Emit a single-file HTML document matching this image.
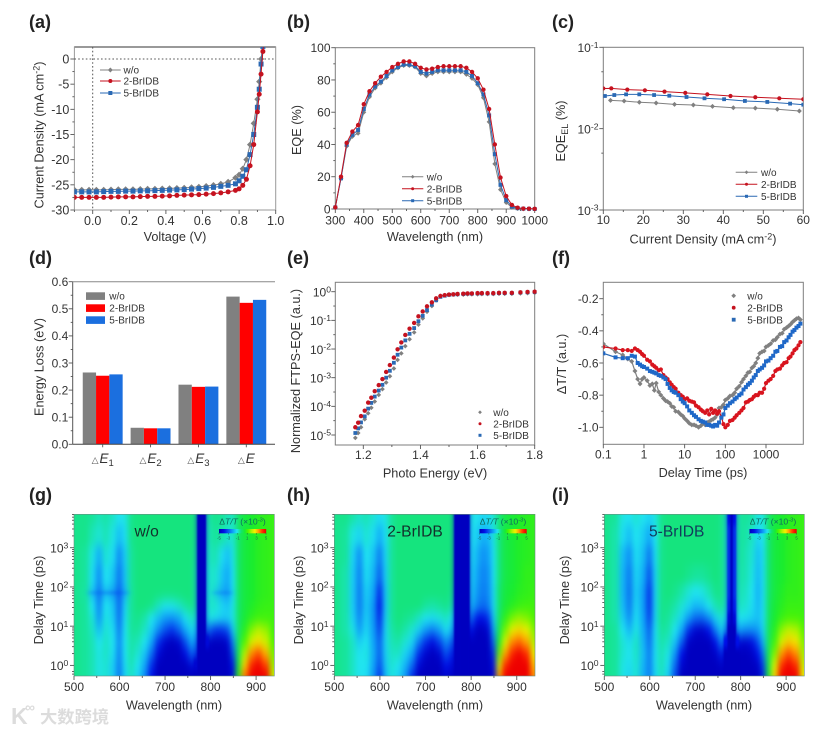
<!DOCTYPE html>
<html lang="en">
<head>
<meta charset="utf-8">
<title>Perovskite device characterization figure</title>
<style>
html,body{margin:0;padding:0;background:#fff}
svg{display:block;font-family:"Liberation Sans","Noto Sans CJK SC",sans-serif;filter:blur(.3px)}
.ttl{font-size:12.7px;fill:#333}
.pl{font-size:18px;font-weight:bold;fill:#222}
</style>
</head>
<body>
<svg id="figure" xmlns="http://www.w3.org/2000/svg" width="831" height="732" viewBox="0 0 831 732">
<defs>
<filter id="heatBlur" filterUnits="userSpaceOnUse" x="0" y="480" width="831" height="230" color-interpolation-filters="sRGB"><feGaussianBlur stdDeviation="2.6 5.2"/></filter>
<filter id="stripBlur" filterUnits="userSpaceOnUse" x="0" y="480" width="831" height="230" color-interpolation-filters="sRGB"><feGaussianBlur stdDeviation="0.8 3"/></filter>
<filter id="streakBlur" filterUnits="userSpaceOnUse" x="0" y="480" width="831" height="230" color-interpolation-filters="sRGB"><feGaussianBlur stdDeviation="3 1.2"/></filter>
</defs>
<rect width="831" height="732" fill="#fff"/>

<text class="pl" x="29" y="28">(a)</text>
<text class="pl" x="287" y="28">(b)</text>
<text class="pl" x="552" y="28">(c)</text>
<text class="pl" x="29" y="264">(d)</text>
<text class="pl" x="287" y="264">(e)</text>
<text class="pl" x="552" y="264">(f)</text>
<text class="pl" x="29" y="501">(g)</text>
<text class="pl" x="287" y="501">(h)</text>
<text class="pl" x="552" y="501">(i)</text>

<g id="panelA"></g>
<g id="panelB"></g>
<g id="panelC"></g>
<g id="panelD"></g>
<g id="panelE"></g>
<g id="panelF"></g>
<g id="panelG"></g>
<g id="panelH"></g>
<g id="panelI"></g>

<text class="ttl" x="175" y="241" text-anchor="middle">Voltage (V)</text>
<text class="ttl" transform="translate(43.5,135) rotate(-90)" text-anchor="middle">Current Density (mA cm<tspan dy="-4" font-size="9">-2</tspan><tspan dy="4">)</tspan></text>
<text class="ttl" x="435" y="241" text-anchor="middle">Wavelength (nm)</text>
<text class="ttl" transform="translate(301,130) rotate(-90)" text-anchor="middle">EQE (%)</text>
<text class="ttl" x="703" y="243.5" text-anchor="middle">Current Density (mA cm<tspan dy="-4" font-size="9">-2</tspan><tspan dy="4">)</tspan></text>
<text class="ttl" transform="translate(565,131) rotate(-90)" text-anchor="middle">EQE<tspan dy="3" font-size="9">EL</tspan><tspan dy="-3"> (%)</tspan></text>
<text class="ttl" transform="translate(43.5,367) rotate(-90)" text-anchor="middle">Energy Loss (eV)</text>
<text class="ttl" x="435" y="477.5" text-anchor="middle">Photo Energy (eV)</text>
<text class="ttl" transform="translate(300,371) rotate(-90)" text-anchor="middle">Normalized FTPS-EQE (a.u.)</text>
<text class="ttl" x="703" y="477" text-anchor="middle">Delay Time (ps)</text>
<text class="ttl" transform="translate(566,364) rotate(-90)" text-anchor="middle">ΔT/T (a.u.)</text>
<text class="ttl" x="174" y="709.5" text-anchor="middle">Wavelength (nm)</text>
<text class="ttl" transform="translate(43,600) rotate(-90)" text-anchor="middle">Delay Time (ps)</text>
<text class="ttl" x="435" y="709.5" text-anchor="middle">Wavelength (nm)</text>
<text class="ttl" transform="translate(303,600) rotate(-90)" text-anchor="middle">Delay Time (ps)</text>
<text class="ttl" x="704" y="709.5" text-anchor="middle">Wavelength (nm)</text>
<text class="ttl" transform="translate(569,600) rotate(-90)" text-anchor="middle">Delay Time (ps)</text>

<g fill="#dcdcdc">
<text x="11" y="724" font-size="23" font-weight="bold">K</text>
<text x="25" y="712" font-size="14" font-weight="bold">∞</text>
<text x="40" y="723" font-size="17.3" font-weight="bold" style="font-family:'Noto Sans CJK SC',sans-serif">大数跨境</text>
</g>
</svg>

<script>
/* ---------- (a) J-V data ---------- */
const jvVoltage=[-.1,-.06,-.02,.02,.06,.1,.14,.18,.22,.26,.3,.34,.38,.42,.46,.5,.54,.58,.62,.66,.7,.74,.78,.8,.82,.84,.86,.88,.9,.91,.92,.93,.94];
const jvWo=[-26,-26,-26,-26,-26,-25.95,-25.9,-25.9,-25.9,-25.85,-25.8,-25.8,-25.75,-25.7,-25.65,-25.6,-25.5,-25.4,-25.25,-25.05,-24.8,-24.4,-23.6,-23,-21.8,-20,-17,-12.8,-8,-4.5,0,3,6];
const jv2Br=[-27.5,-27.5,-27.5,-27.5,-27.5,-27.45,-27.4,-27.4,-27.4,-27.35,-27.3,-27.3,-27.25,-27.2,-27.1,-27.05,-27,-26.95,-26.85,-26.75,-26.6,-26.4,-26.1,-25.8,-25.1,-23.9,-21.2,-17,-10.5,-7,-3,1.5,5];
const jv5Br=[-26.4,-26.4,-26.4,-26.4,-26.35,-26.3,-26.3,-26.25,-26.25,-26.2,-26.2,-26.15,-26.1,-26.05,-26,-25.95,-25.85,-25.75,-25.65,-25.5,-25.3,-25.1,-24.8,-24.2,-23.3,-22,-19,-15,-9.6,-6,-1,2.5,6];
const jvXTicks=[0,.2,.4,.6,.8,1];
const jvXLabels=['0.0','0.2','0.4','0.6','0.8','1.0'];
const jvYTicks=[0,-5,-10,-15,-20,-25,-30];
const jvYLabels=['0','-5','-10','-15','-20','-25','-30'];

/* ---------- (b) EQE data ---------- */
const eqeWave=[300,320,340,360,380,400,420,440,460,480,500,520,540,560,580,600,620,640,660,680,700,720,740,760,780,800,820,840,860,880,900,920,940,960,980,1000];
const eqeWo=[1,19,39,45,47,60,69.5,75,78,81.5,85,87.5,89,89,88,84,82.5,84,85,85,85,85,85,83.5,81,77,69,54,28,12,4,1,.3,.1,.1,0];
const eqe2Br=[1,20,41,48,52,65,73,78,82,85,88,90,91.5,91.5,90,87.5,86.5,87,88,88.5,88.5,88.5,88.5,87.5,85,81,74,62,40,19.5,8,2.5,.8,.3,.2,.1];
const eqe5Br=[1,19,40,46,49,62,71,76,79,82.5,86,88,89.5,89.5,88.5,85,84,85,86,86,86,86,86,85,82.5,78,71,58,34,15,5.5,1.5,.5,.2,.1,0];
const eqeXTicks=[300,400,500,600,700,800,900,1000];
const eqeYTicks=[0,20,40,60,80,100];

/* ---------- (c) EQE_EL data ---------- */
const elJWo=[11.8,15.2,19,23.2,27.8,32.5,37.3,42.5,48,53.5,59];
const elWo=[.0223,.0219,.0211,.0207,.0199,.0195,.0188,.0181,.0179,.0173,.0165];
const elJ2Br=[10,12,16,20.4,25.3,30.5,36,41.8,48,54,60];
const el2Br=[.0312,.0313,.0302,.0296,.0285,.0275,.0264,.0252,.0243,.0236,.023];
const elJ5Br=[10.4,12.75,15.7,19,22.7,26.5,30.8,35.3,40.2,45.4,51,56.7,60];
const el5Br=[.0252,.0259,.0264,.0264,.0259,.0254,.0245,.0236,.023,.0219,.0213,.0203,.0197];
const elXTicks=[10,20,30,40,50,60];
const elYExponents=[-1,-2,-3];
const elYSup=['-1','-2','-3'];

/* ---------- (d) energy loss data ---------- */
const lossCategories=['E','E','E','E'];
const lossSubscripts=['1','2','3',''];
const lossWo=[.265,.061,.22,.545];
const loss2Br=[.253,.059,.212,.522];
const loss5Br=[.258,.059,.213,.533];
const lossYTicks=[0,.1,.2,.3,.4,.5,.6];
const lossYLabels=['0.0','0.1','0.2','0.3','0.4','0.5','0.6'];

/* ---------- (e) FTPS-EQE data (log10 of EQE) ---------- */
const ftpsEnergy=[1.172,1.182,1.192,1.205,1.217,1.228,1.24,1.254,1.267,1.28,1.293,1.307,1.32,1.333,1.347,1.362,1.378,1.393,1.408,1.423,1.44,1.455,1.47,1.485,1.5,1.515,1.53,1.55,1.565,1.58,1.6,1.615,1.635,1.655,1.675,1.695,1.72,1.75,1.775,1.8];
const ftpsLogWo=[-5.1,-4.93,-4.73,-4.45,-4.24,-4.05,-3.83,-3.6,-3.4,-3.17,-2.95,-2.68,-2.38,-2.15,-1.9,-1.66,-1.42,-1.15,-.93,-.7,-.5,-.3,-.15,-.12,-.11,-.1,-.1,-.1,-.09,-.09,-.09,-.08,-.08,-.08,-.07,-.07,-.07,-.06,-.05,-.04];
const ftpsLog2Br=[-4.73,-4.57,-4.34,-4.15,-3.87,-3.7,-3.47,-3.26,-3.05,-2.8,-2.56,-2.3,-2.01,-1.77,-1.51,-1.29,-1.09,-.86,-.69,-.51,-.37,-.23,-.15,-.12,-.1,-.09,-.08,-.07,-.06,-.06,-.05,-.05,-.05,-.05,-.04,-.04,-.04,-.02,-.01,0];
const ftpsLog5Br=[-4.93,-4.77,-4.56,-4.35,-4.08,-3.88,-3.66,-3.45,-3.25,-3,-2.76,-2.48,-2.2,-1.95,-1.7,-1.47,-1.27,-1.03,-.84,-.64,-.45,-.3,-.18,-.14,-.11,-.1,-.09,-.08,-.07,-.07,-.06,-.06,-.06,-.06,-.05,-.05,-.05,-.03,-.02,-.01];
const ftpsXTicks=[1.2,1.4,1.6,1.8];
const ftpsYExponents=[0,-1,-2,-3,-4,-5];

/* ---------- (f) decay data ---------- */
const decayTime=[.1,.2,.3,.4,.5,.6,.7,.8,.9,1,1.2,1.4,1.6,1.8,2,2.3,2.6,3,3.4,3.8,4.3,4.8,5.4,6,7,8,9,10,11.5,13,15,17,19,22,25,28,32,36,40,45,50,56,63,70,80,90,100,115,130,150,170,190,220,250,280,320,360,400,450,500,560,630,700,800,900,1000,1150,1300,1500,1700,1900,2200,2500,2800,3200,3600,4000,4500,5000,5600,6300,7000];
const decayWo=[-.48,-.53,-.55,-.575,-.59,-.65,-.7,-.73,-.7,-.69,-.71,-.74,-.73,-.77,-.725,-.78,-.8,-.82,-.835,-.84,-.85,-.87,-.875,-.9,-.905,-.92,-.93,-.945,-.96,-.975,-.985,-.985,-.99,-1,-.99,-.975,-.985,-.97,-.965,-.955,-.95,-.94,-.92,-.88,-.875,-.86,-.83,-.82,-.805,-.8,-.785,-.76,-.745,-.72,-.7,-.68,-.66,-.655,-.63,-.62,-.6,-.57,-.54,-.53,-.525,-.5,-.49,-.48,-.46,-.455,-.44,-.42,-.415,-.39,-.38,-.37,-.36,-.345,-.335,-.325,-.32,-.33];
const decay2Br=[-.5,-.51,-.52,-.52,-.525,-.51,-.52,-.53,-.545,-.555,-.58,-.59,-.61,-.62,-.63,-.645,-.64,-.675,-.69,-.7,-.72,-.735,-.75,-.76,-.785,-.8,-.81,-.825,-.82,-.835,-.84,-.845,-.865,-.875,-.89,-.9,-.91,-.895,-.92,-.885,-.91,-.895,-.915,-.9,-.935,-.98,-1,-.985,-.96,-.955,-.94,-.925,-.91,-.895,-.88,-.845,-.84,-.83,-.825,-.81,-.8,-.8,-.785,-.785,-.76,-.725,-.71,-.7,-.68,-.65,-.64,-.635,-.615,-.6,-.595,-.57,-.56,-.54,-.52,-.51,-.49,-.47];
const decay5Br=[-.54,-.565,-.57,-.57,-.555,-.56,-.6,-.61,-.62,-.625,-.635,-.65,-.655,-.66,-.665,-.675,-.68,-.69,-.7,-.73,-.755,-.77,-.78,-.785,-.8,-.825,-.84,-.85,-.87,-.895,-.91,-.925,-.935,-.95,-.96,-.965,-.97,-.985,-.985,-.99,-.995,-.985,-.99,-.97,-.94,-.92,-.88,-.865,-.85,-.84,-.825,-.815,-.8,-.79,-.765,-.75,-.735,-.725,-.71,-.69,-.675,-.65,-.64,-.63,-.615,-.59,-.585,-.57,-.555,-.53,-.525,-.5,-.495,-.47,-.46,-.44,-.425,-.405,-.395,-.38,-.37,-.355];
const decayXTicks=[.1,1,10,100,1000];
const decayXLabels=['0.1','1','10','100','1000'];
const decayYTicks=[-.2,-.4,-.6,-.8,-1];
const decayYLabels=['-0.2','-0.4','-0.6','-0.8','-1.0'];

/* ---------- (g,h,i) heatmap data: dT/T (x10^-3); rows are log10(delay), columns wavelength ---------- */
const hmWave=[500,525,540,555,570,585,600,612,625,640,655,670,685,700,715,730,745,758,768,774,780,786,792,800,812,825,838,850,860,875,890,905,920,940];
const hmLogDelayG=[3.85,3.3,2.8,2.3,1.95,1.85,1.75,1.5,1.2,.9,.6,.3,0,-.27];
const hmLogDelay=[3.85,3.3,2.8,2.3,1.85,1.5,1.2,.9,.6,.3,0,-.27];
const hmValuesG=[
[-.5,-.5,-.6,-.8,-.7,-.9,-1.2,-1.1,-.5,-.4,-.4,-.4,-.4,-.4,-.4,-.4,-.4,-.4,-.5,-5,-5,-5,-.8,-.6,-.5,-.6,-.8,-.9,-.2,.3,.5,.7,.8,.9],
[-.5,-.5,-.8,-1,-.8,-1.1,-1.7,-1.3,-.5,-.4,-.4,-.4,-.4,-.4,-.4,-.4,-.4,-.4,-.5,-5,-5,-5,-.9,-.7,-.6,-.7,-.9,-1,-.2,.3,.5,.7,.8,.9],
[-.5,-.6,-1.1,-1.9,-1,-1.3,-2.4,-1.5,-.6,-.4,-.4,-.4,-.4,-.4,-.4,-.4,-.4,-.4,-.6,-5,-5,-5,-1,-.8,-.8,-1.3,-1.7,-1.1,-.2,.3,.5,.7,.8,.9],
[-.5,-.6,-1.3,-2.3,-1.2,-1.6,-2.7,-1.6,-.6,-.4,-.4,-.4,-.4,-.4,-.4,-.4,-.4,-.4,-.7,-5,-5,-5,-1.1,-.9,-1,-1.6,-2,-1.2,-.2,.3,.5,.7,.8,.9],
[-.5,-.6,-1.3,-2.4,-1.3,-1.7,-2.8,-1.6,-.6,-.4,-.4,-.4,-.4,-.4,-.4,-.4,-.4,-.4,-.7,-5,-5,-5,-1.1,-.9,-1,-1.7,-2,-1.2,-.2,.3,.5,.7,.8,.9],
[-.6,-.7,-2.4,-3,-2.6,-2.9,-3.3,-2.4,-.7,-.4,-.4,-.4,-.4,-.4,-.4,-.4,-.4,-.4,-.7,-5,-5,-5,-1.2,-.9,-2.2,-2.6,-2.7,-1.4,-.2,.3,.5,.7,.8,.9],
[-.5,-.6,-1.3,-2.5,-1.3,-1.7,-2.9,-1.5,-.6,-.4,-.4,-.4,-.5,-.6,-.6,-.5,-.4,-.4,-.7,-5,-5,-5,-1.1,-.9,-1,-1.6,-1.9,-1.2,-.2,.3,.5,.7,.8,.9],
[-.5,-.6,-1.2,-2.4,-1.2,-1.6,-2.9,-1.4,-.6,-.4,-.4,-.5,-.9,-1.2,-1.2,-1,-.7,-.5,-.7,-5,-5,-5,-1.1,-.9,-1,-1.4,-1.6,-1.1,-.2,.3,.6,.8,.9,.9],
[-.5,-.6,-1,-2.2,-1.1,-1.5,-2.8,-1.3,-.6,-.5,-.7,-1.2,-1.7,-2.2,-2.3,-2,-1.3,-.9,-1,-5,-5,-5,-1.3,-1.1,-1.3,-1.5,-1.5,-1.1,-.2,.4,.8,1,1,1],
[-.5,-.6,-.9,-1.7,-1,-1.3,-2.6,-1.2,-.6,-.6,-.9,-1.5,-2.4,-3.2,-3.6,-3,-2,-1.4,-1.6,-5,-5,-5,-2.6,-3.2,-3.6,-3.6,-3.2,-1.5,-.2,.7,1.6,2.1,1.8,1],
[-.5,-.6,-.8,-1.2,-.9,-1.2,-2.4,-1.2,-.7,-.8,-1.2,-2,-3.6,-4.6,-5,-4.6,-3.2,-2,-2.4,-5,-5,-5,-4.4,-5,-5,-5,-4.6,-2.4,-.1,1.2,2.4,2.8,2.3,1.2],
[-.5,-.6,-.8,-1.1,-.9,-1.3,-2.5,-1.2,-.7,-1,-1.6,-2.8,-4.4,-5,-5,-5,-4.2,-3,-3.4,-5,-5,-5,-5,-5,-5,-5,-5,-3.2,.1,2,3.6,4.1,3.3,1.5],
[-.5,-.6,-.8,-1.1,-1,-1.5,-2.6,-1.3,-.8,-1.2,-2,-3.6,-5,-5,-5,-5,-5,-4.4,-4.6,-5,-5,-5,-5,-5,-5,-5,-5,-4,.4,3,4.5,5,4.2,1.8],
[-.5,-.6,-.8,-1.1,-1,-1.5,-2.7,-1.4,-.9,-1.4,-2.4,-4,-5,-5,-5,-5,-5,-5,-5,-5,-5,-5,-5,-5,-5,-5,-5,-4.4,.8,3.8,5,5,5,2.2]
];
const hmValuesH=[
[-.5,-.5,-.7,-.9,-.8,-1,-1.3,-1.1,-.6,-.4,-.4,-.4,-.4,-.4,-.4,-.4,-.4,-.4,-5,-5,-5,-5,-5,-1.1,-1.2,-1.4,-1.3,-1,-.4,.2,.4,.6,.7,.8],
[-.5,-.6,-1.1,-1.4,-1,-1.3,-1.9,-1.3,-.6,-.4,-.4,-.4,-.4,-.4,-.4,-.4,-.4,-.4,-5,-5,-5,-5,-5,-1.2,-1.5,-1.9,-1.8,-1.1,-.4,.2,.4,.6,.7,.8],
[-.5,-.6,-1.4,-2.3,-1.2,-1.6,-2.6,-1.4,-.6,-.4,-.4,-.4,-.4,-.4,-.4,-.4,-.4,-.4,-5,-5,-5,-5,-5,-1.3,-1.8,-2.3,-2.1,-1.2,-.4,.2,.4,.6,.7,.8],
[-.5,-.7,-1.5,-2.5,-1.3,-1.8,-3,-1.5,-.6,-.4,-.4,-.4,-.4,-.4,-.4,-.4,-.4,-.4,-5,-5,-5,-5,-5,-1.4,-2,-2.5,-2.3,-1.2,-.4,.2,.4,.6,.8,.8],
[-.5,-.7,-1.5,-2.6,-1.5,-2,-3.7,-1.6,-.6,-.4,-.4,-.4,-.4,-.4,-.4,-.4,-.4,-.5,-5,-5,-5,-5,-5,-1.5,-2.2,-2.6,-2.4,-1.3,-.3,.3,.5,.7,.8,.9],
[-.5,-.7,-1.5,-2.6,-1.6,-2.2,-4,-1.6,-.6,-.4,-.4,-.4,-.4,-.6,-.7,-.6,-.5,-.7,-5,-5,-5,-5,-5,-1.7,-2.5,-2.9,-2.6,-1.3,-.3,.4,.7,.9,1,1],
[-.5,-.7,-1.4,-2.4,-1.5,-2.2,-3.7,-1.5,-.6,-.4,-.5,-.6,-.9,-1.2,-1.3,-1.1,-.9,-1.2,-5,-5,-5,-5,-5,-2.6,-4,-4.2,-3.6,-1.5,-.2,.8,1.5,1.8,1.6,1.2],
[-.5,-.7,-1.1,-2.1,-1.4,-2.1,-3.4,-1.4,-.7,-.5,-.7,-1,-1.5,-2.2,-2.6,-2.1,-1.3,-1.8,-5,-5,-5,-5,-5,-4,-5,-5,-4.6,-2,.1,1.5,2.6,2.9,2.6,1.6],
[-.5,-.6,-.9,-1.5,-1.2,-2,-3,-1.4,-.8,-.7,-1,-1.4,-2.6,-3.6,-4.2,-3.4,-2.4,-3,-5,-5,-5,-5,-5,-5,-5,-5,-5,-2.8,.6,2.4,3.6,3.9,3.4,2],
[-.5,-.6,-.9,-1.2,-1.1,-1.9,-3,-1.5,-.9,-.9,-1.4,-2,-3.6,-4.6,-5,-4.6,-3.2,-3.8,-5,-5,-5,-5,-5,-5,-5,-5,-5,-3.6,1.4,3.4,4.5,5,4.4,2.6],
[-.5,-.6,-.9,-1.2,-1.2,-2,-3.2,-1.6,-1,-1.2,-1.8,-2.8,-4.4,-5,-5,-5,-4,-4.4,-5,-5,-5,-5,-5,-5,-5,-5,-5,-4.2,2.4,4.4,5,5,5,3.2],
[-.5,-.6,-.9,-1.2,-1.3,-2.2,-3.6,-1.8,-1.1,-1.4,-2.2,-3.6,-5,-5,-5,-5,-4.6,-4.8,-5,-5,-5,-5,-5,-5,-5,-5,-5,-4.6,3.4,5,5,5,5,3.6]
];
const hmValuesI=[
[-.5,-.6,-1.1,-1.2,-1,-1.2,-1.4,-1.1,-.5,-.4,-.4,-.4,-.4,-.4,-.4,-.4,-.4,-.5,-.8,-4,-5,-4,-.8,-.6,-.6,-.7,-1.1,-1.1,-.3,.3,.5,.7,.8,.9],
[-.5,-.7,-1.3,-1.7,-1.2,-1.5,-2,-1.2,-.5,-.4,-.4,-.4,-.4,-.4,-.4,-.4,-.4,-.5,-.8,-3.6,-5,-3.6,-.8,-.6,-.7,-.9,-1.4,-1.2,-.3,.3,.5,.7,.8,.9],
[-.5,-.7,-1.7,-2.3,-1.3,-1.7,-2.7,-1.3,-.5,-.4,-.4,-.4,-.4,-.4,-.4,-.4,-.4,-.5,-.8,-3.6,-5,-3.6,-.8,-.6,-.8,-1,-1.7,-1.3,-.3,.3,.5,.7,.8,.9],
[-.5,-.7,-1.8,-2.6,-1.4,-1.9,-3.2,-1.4,-.5,-.4,-.4,-.4,-.5,-.6,-.6,-.5,-.4,-.5,-.8,-3.6,-5,-3.6,-.8,-.7,-.8,-1.1,-1.8,-1.3,-.3,.3,.5,.7,.8,.9],
[-.5,-.7,-1.8,-2.7,-1.5,-2.1,-3.6,-1.4,-.5,-.4,-.5,-.7,-1,-1.2,-1.1,-.8,-.5,-.5,-.8,-3.6,-5,-3.6,-.8,-.8,-.9,-1.2,-1.9,-1.3,-.3,.3,.6,.8,.8,.9],
[-.5,-.7,-1.7,-2.6,-1.4,-2.1,-3.6,-1.4,-.5,-.5,-.7,-1,-1.4,-1.8,-1.7,-1.2,-.8,-.6,-.9,-3.8,-5,-3.8,-.9,-.9,-1,-1.3,-1.8,-1.3,-.2,.4,.7,.9,.9,.9],
[-.5,-.7,-1.5,-2.3,-1.3,-2,-3.4,-1.4,-.5,-.6,-.9,-1.4,-2.2,-2.9,-3,-2.4,-1.5,-1,-1.4,-4.4,-5,-4.4,-1.2,-1.2,-1.3,-1.5,-1.7,-1.3,-.2,.5,.9,1.1,1.1,1],
[-.5,-.6,-1.2,-1.8,-1.1,-1.9,-3,-1.3,-.6,-.7,-1.2,-2,-3.6,-4.6,-4.8,-4,-2.6,-1.5,-2.6,-5,-5,-5,-2,-2.2,-2.4,-2.4,-2.2,-1.4,-.1,.7,1.7,2.2,2,1.3],
[-.5,-.6,-1,-1.3,-.9,-1.8,-2.8,-1.3,-.7,-.9,-1.6,-3,-4.8,-5,-5,-5,-4,-2.4,-4,-5,-5,-5,-4,-4.6,-4.6,-4.2,-3.2,-1.8,-.1,1,2.4,3,2.8,1.6],
[-.5,-.6,-1,-1.2,-.9,-1.7,-2.6,-1.3,-.8,-1.1,-2.2,-4,-5,-5,-5,-5,-4.8,-3.8,-5,-5,-5,-5,-5,-5,-5,-4.8,-4,-2.6,.1,1.6,3.5,4.1,3.6,1.9],
[-.5,-.6,-1.1,-1.3,-1,-1.8,-2.6,-1.3,-.8,-1.3,-2.8,-4.6,-5,-5,-5,-5,-5,-4.8,-5,-5,-5,-5,-5,-5,-5,-5,-4.8,-3.4,.2,2.4,4.3,5,4.4,2.2],
[-.5,-.6,-1.1,-1.4,-1,-1.9,-2.6,-1.4,-.9,-1.5,-3.2,-5,-5,-5,-5,-5,-5,-5,-5,-5,-5,-5,-5,-5,-5,-5,-5,-3.8,.4,3,5,5,5,2.6]
];
const hmXTicks=[500,600,700,800,900];
const hmYExponents=[3,2,1,0];
const colorbarTicks=[-5,-3,-1,1,3,5];
const seriesNames=['w/o','2-BrIDB','5-BrIDB'];

/* ---------- drawing helpers ---------- */
const NS='http://www.w3.org/2000/svg';
const INK='#333';
const GRAY='#808080',RED='#c5121f',BLUE='#2a69b4';
let clipCount=0;

function el(tag,attrs,parent){
  const n=document.createElementNS(NS,tag);
  for(const k in attrs){n.setAttribute(k,attrs[k]);}
  parent.appendChild(n);
  return n;
}
function linear(d0,d1,r0,r1){return v=>r0+(v-d0)/(d1-d0)*(r1-r0);}
function logScale(d0,d1,r0,r1){const s=linear(Math.log10(d0),Math.log10(d1),r0,r1);return v=>s(Math.log10(v));}

function drawLabel(parent,x,y,str,size,anchor,sup,name){
  const t=el('text',{x:x,y:y,'font-size':size,'text-anchor':anchor,fill:INK},parent);
  t.textContent=str;
  if(sup!==''&&sup!==undefined&&sup!==null){
    const s=el('tspan',{dy:-size*.35,'font-size':size*.72},t);
    s.textContent=sup;
    
    
  }
  
  
  return t;
}
function drawFrame(parent,L,T,R,B,color,width){
  const f=el('rect',{x:L,y:T,width:R-L,height:B-T,fill:'none',stroke:color||'#7d7d7d','stroke-width':width||1},parent);
  
  
}
function drawXTicks(parent,sx,y,vals,len,name){
  vals.forEach(v=>{
    const t=el('line',{x1:sx(v),x2:sx(v),y1:y,y2:y+len,stroke:'#555','stroke-width':.9},parent);
    
    
  });
}
function drawYTicks(parent,sy,x,vals,len,name){
  vals.forEach(v=>{
    const t=el('line',{x1:x-len,x2:x,y1:sy(v),y2:sy(v),stroke:'#555','stroke-width':.9},parent);
    
    
  });
}
function xLabels(parent,sx,y,vals,labels,size,name){
  vals.forEach((v,i)=>{drawLabel(parent,sx(v),y,labels?labels[i]:String(v),size,'middle',null,name);});
}
function yLabels(parent,sy,x,vals,labels,size,name){
  vals.forEach((v,i)=>{drawLabel(parent,x,sy(v)+size*.36,labels?labels[i]:String(v),size,'end',null,name);});
}
function yLogLabels(parent,sy,x,vals,sups,size,name){
  vals.forEach((v,i)=>{drawLabel(parent,x,sy(v)+size*.4,'10',size,'end',sups[i],name);});
}
function makeClip(L,T,R,B){
  const id='clip'+(++clipCount);
  const c=el('clipPath',{id:id},document.querySelector('#figure defs'));
  const r=el('rect',{x:L,y:T,width:R-L,height:B-T},c);
  
  
  return 'url(#'+id+')';
}
function drawLine(parent,xs,ys,sx,sy,color,width,name){
  const d=xs.map((x,i)=>(i?'L':'M')+sx(x).toFixed(2)+' '+sy(ys[i]).toFixed(2)).join('');
  const p=el('path',{d:d,fill:'none',stroke:color,'stroke-width':width},parent);
  
  
  return p;
}
function drawMarker(parent,shape,cx,cy,size,color,name){
  let m;
  const r=size/2;
  if(shape==='circle'){m=el('circle',{cx:cx,cy:cy,r:r,fill:color},parent);}
  else if(shape==='square'){m=el('rect',{x:cx-r,y:cy-r,width:size,height:size,fill:color},parent);}
  else{const q=r*1.25;m=el('polygon',{points:cx+','+(cy-q)+' '+(cx+q)+','+cy+' '+cx+','+(cy+q)+' '+(cx-q)+','+cy,fill:color},parent);}
  
  
  return m;
}
function drawMarkers(parent,shape,xs,ys,sx,sy,size,color,name){
  xs.forEach((x,i)=>{drawMarker(parent,shape,sx(x),sy(ys[i]),size,color,name);});
}
function legendEntry(parent,x1,x2,y,tx,color,shape,label,size,name){
  if(x2>x1){
    const l=el('line',{x1:x1,x2:x2,y1:y,y2:y,stroke:color,'stroke-width':1},parent);
    
    
  }
  drawMarker(parent,shape,(x1+x2)/2,y,size,color,name+'-marker');
  drawLabel(parent,tx,y+3.6,label,10,'start',null,name+'-label');
}
function legend(parent,x1,x2,ys,tx,size){
  const colors=[GRAY,RED,BLUE];
  const shapes=['diamond','circle','square'];
  seriesNames.forEach((s,i)=>{legendEntry(parent,x1,x2,ys[i],tx,colors[i],shapes[i],s,size,'legend-entry');});
}

/* ---------- (a) ---------- */
(function(){
  const p=document.getElementById('panelA');
  const L=74.4,R=275.7,T=47,B=210;
  const sx=linear(0,1,92.7,275.7), sy=linear(0,-30,59,210);
  drawFrame(p,L,T,R,B,'#9a9a9a',1);
  const topEdge=el('line',{x1:L,x2:R,y1:T,y2:T,stroke:'#999','stroke-width':2},p);
  
  
  [[sx(0),sx(0),T,B],[L,R,sy(0),sy(0)]].forEach(c=>{
    const d=el('line',{x1:c[0],x2:c[1],y1:c[2],y2:c[3],stroke:'#555','stroke-width':1,'stroke-dasharray':'1.6 2.2'},p);
    
    
  });
  drawXTicks(p,sx,B,jvXTicks,4,'x-tick');
  drawXTicks(p,sx,B,[-.1,.1,.3,.5,.7,.9],2,'x-minor-tick');
  drawYTicks(p,sy,L,jvYTicks,4,'y-tick');
  drawYTicks(p,sy,L,[-2.5,-7.5,-12.5,-17.5,-22.5,-27.5],2,'y-minor-tick');
  xLabels(p,sx,225,jvXTicks,jvXLabels,12.5,'x-tick-label');
  yLabels(p,sy,69.3,jvYTicks,jvYLabels,12.5,'y-tick-label');
  const g=el('g',{'clip-path':makeClip(L,T,R,B)},p);
  
  
  drawLine(g,jvVoltage,jvWo,sx,sy,GRAY,1,'wo-line');
  drawMarkers(g,'diamond',jvVoltage,jvWo,sx,sy,5,GRAY,'wo-point');
  drawLine(g,jvVoltage,jv5Br,sx,sy,BLUE,1,'5-bridb-line');
  drawMarkers(g,'square',jvVoltage,jv5Br,sx,sy,5,BLUE,'5-bridb-point');
  drawLine(g,jvVoltage,jv2Br,sx,sy,RED,1,'2-bridb-line');
  drawMarkers(g,'circle',jvVoltage,jv2Br,sx,sy,5,RED,'2-bridb-point');
  legend(p,100,120.7,[70,81,93],123.5,4);
})();

/* ---------- (b) ---------- */
(function(){
  const p=document.getElementById('panelB');
  const L=335.3,R=534.7,T=47.7,B=209;
  const sx=linear(300,1000,L,R), sy=linear(0,100,B,T);
  drawFrame(p,L,T,R,B);
  drawXTicks(p,sx,B,eqeXTicks,4,'x-tick');
  drawXTicks(p,sx,B,[350,450,550,650,750,850,950],2,'x-minor-tick');
  drawYTicks(p,sy,L,eqeYTicks,4,'y-tick');
  drawYTicks(p,sy,L,[10,30,50,70,90],2,'y-minor-tick');
  xLabels(p,sx,224.5,eqeXTicks,null,12,'x-tick-label');
  yLabels(p,sy,330.5,eqeYTicks,null,12,'y-tick-label');
  drawLine(p,eqeWave,eqeWo,sx,sy,GRAY,1,'wo-line');
  drawMarkers(p,'diamond',eqeWave,eqeWo,sx,sy,4,GRAY,'wo-point');
  drawLine(p,eqeWave,eqe5Br,sx,sy,BLUE,1,'5-bridb-line');
  drawMarkers(p,'square',eqeWave,eqe5Br,sx,sy,4,BLUE,'5-bridb-point');
  drawLine(p,eqeWave,eqe2Br,sx,sy,RED,1,'2-bridb-line');
  drawMarkers(p,'circle',eqeWave,eqe2Br,sx,sy,4.4,RED,'2-bridb-point');
  legend(p,402,423.3,[176.7,188.7,200.7],426.7,3);
})();

/* ---------- (c) ---------- */
(function(){
  const p=document.getElementById('panelC');
  const L=603.3,R=803.3,T=47.3,B=210;
  const sx=linear(10,60,L,R), sy=logScale(.1,.001,T,B);
  drawFrame(p,L,T,R,B);
  drawXTicks(p,sx,B,elXTicks,4,'x-tick');
  drawXTicks(p,sx,B,[15,25,35,45,55],2,'x-minor-tick');
  drawYTicks(p,sy,L,[.1,.01,.001],4,'y-tick');
  drawYTicks(p,sy,L,[.05,.005],2,'y-minor-tick');
  xLabels(p,sx,224,elXTicks,null,12,'x-tick-label');
  yLogLabels(p,v=>sy(Math.pow(10,v)),598.5,elYExponents,elYSup,12,'y-tick-label');
  const g=el('g',{'clip-path':makeClip(L,T,R,B)},p);
  
  
  drawLine(g,elJWo,elWo,sx,sy,GRAY,1,'wo-line');
  drawMarkers(g,'diamond',elJWo,elWo,sx,sy,4,GRAY,'wo-point');
  drawLine(g,elJ5Br,el5Br,sx,sy,BLUE,1,'5-bridb-line');
  drawMarkers(g,'square',elJ5Br,el5Br,sx,sy,3.8,BLUE,'5-bridb-point');
  drawLine(g,elJ2Br,el2Br,sx,sy,RED,1,'2-bridb-line');
  drawMarkers(g,'circle',elJ2Br,el2Br,sx,sy,4.2,RED,'2-bridb-point');
  legend(p,735.7,757.3,[172.3,184.3,196.3],761,3);
})();

/* ---------- (d) ---------- */
(function(){
  const p=document.getElementById('panelD');
  const L=72.7,R=275,T=281.7,B=444.3;
  const sy=linear(0,.6,B,T);
  const cx=linear(0,3,102.7,246.3);
  const barW=13.3;
  const series=[[lossWo,'#808080','wo-bar'],[loss2Br,'#ff0000','2-bridb-bar'],[loss5Br,'#1b6fdf','5-bridb-bar']];
  series.forEach((s,k)=>{
    s[0].forEach((v,i)=>{
      const b=el('rect',{x:cx(i)+(k-1.5)*barW,y:sy(v),width:barW,height:B-sy(v),fill:s[1]},p);
      
      
    });
  });
  [[L,L,T,B,'#555'],[L,R,B,B,'#444'],[L,R,T,T,'#888']].forEach(c=>{
    const a=el('line',{x1:c[0],x2:c[1],y1:c[2],y2:c[3],stroke:c[4],'stroke-width':1},p);
    
    
  });
  drawYTicks(p,sy,L,lossYTicks,4,'y-tick');
  drawYTicks(p,sy,L,[.05,.15,.25,.35,.45,.55],2,'y-minor-tick');
  yLabels(p,sy,68.3,lossYTicks,lossYLabels,12,'y-tick-label');
  lossCategories.forEach((c,i)=>{
    const tick=el('line',{x1:cx(i),x2:cx(i),y1:B,y2:B+3,stroke:'#555','stroke-width':.9},p);
    
    
    const t=el('text',{x:cx(i),y:463,'text-anchor':'middle','font-size':13,fill:INK},p);
    
    
    const tri=el('tspan',{'font-size':9,fill:'#555',style:'font-family:\'DejaVu Sans\',sans-serif'},t);
    tri.textContent='△';
    
    
    const e=el('tspan',{'font-style':'italic','font-size':13.5,dx:1},t);
    e.textContent=c;
    
    
    if(lossSubscripts[i]){
      const sub=el('tspan',{dy:3,'font-size':9.5},t);
      sub.textContent=lossSubscripts[i];
      
      
    }
  });
  [[292.3,'#808080'],[304.3,'#ff0000'],[316.3,'#1b6fdf']].forEach((r,i)=>{
    const s=el('rect',{x:86,y:r[0],width:19,height:7.6,fill:r[1]},p);
    
    
    drawLabel(p,109.3,r[0]+7,seriesNames[i],10,'start',null,'legend-label');
  });
})();

/* ---------- (e) ---------- */
(function(){
  const p=document.getElementById('panelE');
  const L=335.3,R=534.7,T=282.3,B=445;
  const sx=linear(1.2,1.8,363.3,534.7), sy=linear(0,-5,291.7,435);
  drawFrame(p,L,T,R,B);
  drawXTicks(p,sx,B,ftpsXTicks,4,'x-tick');
  drawXTicks(p,sx,B,[1.3,1.5,1.7],2,'x-minor-tick');
  drawYTicks(p,sy,L,ftpsYExponents,4,'y-tick');
  drawYTicks(p,sy,L,[-.5,-1.5,-2.5,-3.5,-4.5],2,'y-minor-tick');
  xLabels(p,sx,459,ftpsXTicks,['1.2','1.4','1.6','1.8'],12,'x-tick-label');
  yLogLabels(p,sy,331,ftpsYExponents,['0','-1','-2','-3','-4','-5'],12,'y-tick-label');
  const g=el('g',{'clip-path':makeClip(L,T,R+2,B)},p);
  
  
  drawMarkers(g,'diamond',ftpsEnergy,ftpsLogWo,sx,sy,3.8,GRAY,'wo-point');
  drawMarkers(g,'square',ftpsEnergy,ftpsLog5Br,sx,sy,3.8,BLUE,'5-bridb-point');
  drawMarkers(g,'circle',ftpsEnergy,ftpsLog2Br,sx,sy,4.4,RED,'2-bridb-point');
  legend(p,480,480,[412.3,423.7,435.3],493.3,3);
})();

/* ---------- (f) ---------- */
(function(){
  const p=document.getElementById('panelF');
  const L=603.3,R=803.3,T=282.3,B=444.3;
  const sx=logScale(.1,1000,L,766), sy=linear(-.2,-1,298.7,427.3);
  drawFrame(p,L,T,R,B);
  drawXTicks(p,sx,B,decayXTicks,4,'x-tick');
  drawYTicks(p,sy,L,decayYTicks,4,'y-tick');
  drawYTicks(p,sy,L,[-.3,-.5,-.7,-.9],2,'y-minor-tick');
  xLabels(p,sx,458.5,decayXTicks,decayXLabels,12,'x-tick-label');
  yLabels(p,sy,598.5,decayYTicks,decayYLabels,12,'y-tick-label');
  const g=el('g',{'clip-path':makeClip(L,T,R,B)},p);
  
  
  drawLine(g,decayTime,decayWo,sx,sy,GRAY,1.2,'wo-fit-line');
  drawMarkers(g,'diamond',decayTime,decayWo,sx,sy,4,GRAY,'wo-point');
  drawLine(g,decayTime,decay2Br,sx,sy,RED,1.2,'2-bridb-fit-line');
  drawMarkers(g,'circle',decayTime,decay2Br,sx,sy,4.2,'#d8141e','2-bridb-point');
  drawLine(g,decayTime,decay5Br,sx,sy,BLUE,1.2,'5-bridb-fit-line');
  drawMarkers(g,'square',decayTime,decay5Br,sx,sy,4,'#1f68c8','5-bridb-point');
  legend(p,733.7,733.7,[295.7,307.7,319.7],747.3,3.8);
})();

/* ---------- (g,h,i) heatmaps ---------- */
const colorStops=[[-5,[0,0,192]],[-4,[0,16,232]],[-3,[8,96,240]],[-2,[16,168,248]],[-1.2,[32,228,240]],[-.7,[24,228,168]],[-.3,[20,228,112]],[.5,[24,236,48]],[1.2,[80,244,0]],[2,[176,244,0]],[2.7,[244,240,0]],[3.5,[255,152,0]],[4.3,[255,48,0]],[5,[238,0,0]]];
function colorOf(v){
  const c=Math.max(-5,Math.min(5,v));
  for(let i=1;i<colorStops.length;i++){
    const a=colorStops[i-1],b=colorStops[i];
    if(c<=b[0]){
      const t=(c-a[0])/(b[0]-a[0]);
      const m=a[1].map((q,j)=>Math.round(q+(b[1][j]-q)*t));
      return 'rgb('+m.join(',')+')';
    }
  }
  return 'rgb(238,0,0)';
}
function edges(arr,scale,pad){
  const out=[];
  out.push(scale(arr[0])+pad);
  for(let i=1;i<arr.length;i++){out.push(scale((arr[i-1]+arr[i])/2));}
  out.push(scale(arr[arr.length-1])-pad);
  return out;
}
function drawHeatmap(cfg){
  const p=document.getElementById(cfg.id);
  const L=cfg.L,R=cfg.R,T=514.3,B=676;
  const sx=linear(500,940,L,R), sy=linear(3,0,547.7,665.4);
  const clip=el('g',{'clip-path':makeClip(L,T,R,B)},p);
  
  
  const blur=el('g',{filter:'url(#heatBlur)'},clip);
  
  
  const strip=el('g',{filter:'url(#stripBlur)'},clip);
  
  
  const streak=el('g',{filter:'url(#streakBlur)',opacity:.4},clip);
  
  
  const xe=edges(hmWave,sx,-20);
  const ye=edges(cfg.rows,sy,20);
  ye[0]=sy(cfg.rows[0])-20;
  ye[ye.length-1]=sy(cfg.rows[cfg.rows.length-1])+20;
  cfg.values.forEach((row,r)=>{
    row.forEach((v,c)=>{
      const cell=el('rect',{x:xe[c],y:ye[r],width:xe[c+1]-xe[c]+.6,height:ye[r+1]-ye[r]+.6,fill:colorOf(v)},blur);
      
      
      if(c>=18&&c<=22&&v<=-3.5){
        const top=el('rect',{x:xe[c],y:ye[r],width:xe[c+1]-xe[c]+.3,height:ye[r+1]-ye[r]+.6,fill:colorOf(v)},strip);
        
        
      }
      if(r===cfg.streakRow&&v<=-2&&c<18){
        const st=el('rect',{x:xe[c],y:ye[r],width:xe[c+1]-xe[c]+.3,height:ye[r+1]-ye[r],fill:colorOf(v)},streak);
        
        
      }
      if(r===cfg.streakRow&&v<=-2&&c>22){
        const st2=el('rect',{x:xe[c],y:ye[r],width:xe[c+1]-xe[c]+.3,height:ye[r+1]-ye[r],fill:colorOf(v)},streak);
        
        
      }
    });
  });
  drawFrame(p,L,T,R,B,'#6a8a80',.6);
  drawXTicks(p,sx,B,hmXTicks,4,'x-tick');
  drawXTicks(p,sx,B,[550,650,750,850],2,'x-minor-tick');
  drawYTicks(p,sy,L,hmYExponents,4,'y-tick');
  const minor=[];
  [2,3,4,5,6,7,8,9].forEach(m=>{[0,1,2,3].forEach(d=>{const q=d+Math.log10(m);if(q<3.85){minor.push(q);}});});
  minor.push(-.155,-.222);
  drawYTicks(p,sy,L,minor,2,'y-minor-tick');
  xLabels(p,sx,691,hmXTicks,null,12,'x-tick-label');
  yLogLabels(p,sy,cfg.L-5.7,hmYExponents,['3','2','1','0'],12,'y-tick-label');
  const name=drawLabel(p,cfg.titleX,536.7,cfg.title,15.6,'start',null,'sample-label');
  name.setAttribute('fill',cfg.titleColor);
  /* colorbar */
  const bx=cfg.barX,bw=47;
  const sb=linear(-5,5,bx,bx+bw);
  for(let i=0;i<47;i++){
    const seg=el('rect',{x:bx+i,y:529,width:1.2,height:4.3,fill:colorOf(-5+10*i/46)},p);
    
    
  }
  colorbarTicks.forEach(v=>{
    const tk=el('line',{x1:sb(v),x2:sb(v),y1:533,y2:534.6,stroke:'#234','stroke-width':.4},p);
    
    
    const lb=drawLabel(p,sb(v),539.5,String(v),4.2,'middle',null,'colorbar-tick-label');
    lb.setAttribute('fill','#1f5a55');
  });
  const ct=el('text',{x:bx+23.5,y:524.5,'text-anchor':'middle','font-size':8.6,fill:'#0f6a5f'},p);
  
  
  const ctA=el('tspan',{},ct);
  ctA.textContent='Δ';
  
  
  const ctB=el('tspan',{'font-style':'italic'},ct);
  ctB.textContent='T/T ';
  
  
  const ctC=el('tspan',{},ct);
  ctC.textContent='(×10';
  
  
  const ctD=el('tspan',{dy:-2.8,'font-size':5.8},ct);
  ctD.textContent='-3';
  
  
  const ctE=el('tspan',{dy:2.8},ct);
  ctE.textContent=')';
  
  
}
drawHeatmap({id:'panelG',L:74,R:274.3,values:hmValuesG,rows:hmLogDelayG,title:'w/o',titleX:134.5,barX:219,streakRow:5,titleColor:'#13302c'});
drawHeatmap({id:'panelH',L:334.3,R:535,values:hmValuesH,rows:hmLogDelay,title:'2-BrIDB',titleX:387.3,barX:479.5,streakRow:-1,titleColor:'#13302c'});
drawHeatmap({id:'panelI',L:604.3,R:804.3,values:hmValuesI,rows:hmLogDelay,title:'5-BrIDB',titleX:649,barX:749.5,streakRow:-1,titleColor:'#123a5c'});
</script>
</body>
</html>
